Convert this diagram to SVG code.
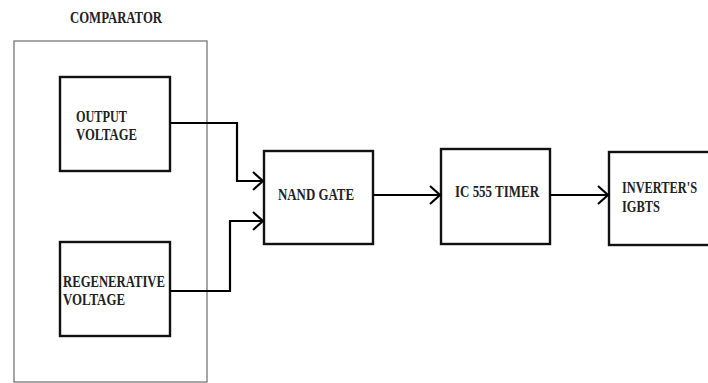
<svg xmlns="http://www.w3.org/2000/svg" width="708" height="383" viewBox="0 0 708 383">
<defs>
<marker id="arr" viewBox="0 0 12 20" refX="11" refY="10" markerWidth="12" markerHeight="20" markerUnits="userSpaceOnUse" orient="auto">
<path d="M1,1 L11,10 L1,19" fill="none" stroke="#000" stroke-width="2.2"/>
</marker>
<style>
.box{fill:#fff;stroke:#111;stroke-width:2.4}
.outer{fill:none;stroke:#777;stroke-width:1.3}
.t{font-family:"Liberation Serif","Times New Roman",serif;font-weight:bold;font-size:16px;fill:#222}
.c{fill:none;stroke:#000;stroke-width:2.2}
</style>
</defs>
<rect width="708" height="383" fill="#fff"/>
<g id="comparator">
<rect class="outer" x="14" y="41" width="193" height="341"/>
<text class="t" x="70" y="23" textLength="92" lengthAdjust="spacingAndGlyphs">COMPARATOR</text>
</g>
<g id="output-voltage">
<rect class="box" x="60" y="77" width="110" height="94"/>
<text class="t" x="76" y="122" textLength="51" lengthAdjust="spacingAndGlyphs">OUTPUT</text>
<text class="t" x="76" y="140" textLength="61" lengthAdjust="spacingAndGlyphs">VOLTAGE</text>
</g>
<g id="regenerative-voltage">
<rect class="box" x="60" y="242" width="110" height="94"/>
<text class="t" x="63" y="287" textLength="102" lengthAdjust="spacingAndGlyphs">REGENERATIVE</text>
<text class="t" x="63" y="305" textLength="62" lengthAdjust="spacingAndGlyphs">VOLTAGE</text>
</g>
<g id="nand-gate">
<rect class="box" x="264" y="151" width="109" height="93"/>
<text class="t" x="278" y="200" textLength="76" lengthAdjust="spacingAndGlyphs">NAND GATE</text>
</g>
<g id="ic555">
<rect class="box" x="441" y="149" width="109" height="95"/>
<text class="t" x="455" y="197" textLength="84" lengthAdjust="spacingAndGlyphs">IC 555 TIMER</text>
</g>
<g id="inverter">
<rect class="box" x="609" y="152" width="110" height="93"/>
<text class="t" x="622" y="193" textLength="75" lengthAdjust="spacingAndGlyphs">INVERTER'S</text>
<text class="t" x="622" y="212" textLength="38" lengthAdjust="spacingAndGlyphs">IGBTS</text>
</g>
<g id="connectors">
<polyline class="c" points="170,123 237,123 237,181 263,181" marker-end="url(#arr)"/>
<polyline class="c" points="170,291 230,291 230,221 263,221" marker-end="url(#arr)"/>
<line class="c" x1="373" y1="195" x2="440" y2="195" marker-end="url(#arr)"/>
<line class="c" x1="550" y1="195" x2="608" y2="195" marker-end="url(#arr)"/>
</g>
</svg>
